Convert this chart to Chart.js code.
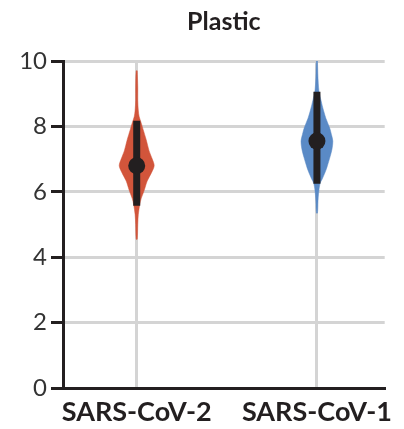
<!DOCTYPE html>
<html>
<head>
<meta charset="utf-8">
<script src="https://cdn.jsdelivr.net/npm/chart.js@4.4.1/dist/chart.umd.min.js"></script>
<style>
  html, body { margin: 0; padding: 0; background: #fff; }
  #wrap { width: 404px; height: 429px; }
</style>
</head>
<body>
<div id="wrap"><canvas id="chart"></canvas></div>
<script>
// groups and summary values
const categories = ["SARS-CoV-2", "SARS-CoV-1"];
const yTicks = [0, 2, 4, 6, 8, 10];
const medians = [6.8, 7.55];
const lowers = [5.57, 6.25];
const uppers = [8.17, 9.06];

// violin outlines: y value and relative density (1 = widest)
const cov2Values = [9.7, 9.2, 8.8, 8.5, 8.3, 8.1, 7.9, 7.6, 7.25, 7.0, 6.8, 6.6, 6.33, 6.15, 6.0, 5.8, 5.6, 5.3, 5.0, 4.55];
const cov2Density = [0.03, 0.06, 0.06, 0.09, 0.14, 0.26, 0.37, 0.54, 0.71, 0.89, 1, 0.86, 0.6, 0.49, 0.4, 0.26, 0.17, 0.09, 0.06, 0.03];
const cov1Values = [10.0, 9.5, 9.1, 8.8, 8.5, 8.25, 7.95, 7.75, 7.55, 7.3, 7.03, 6.8, 6.64, 6.4, 6.24, 5.93, 5.7, 5.35];
const cov1Density = [0.03, 0.06, 0.11, 0.23, 0.37, 0.51, 0.73, 0.83, 0.91, 0.86, 0.73, 0.6, 0.5, 0.31, 0.17, 0.09, 0.06, 0.03];

const colors = ["#d2553b", "#5a8ac6"];
const ink = "#231f20";
const gridGray = "#d4d4d4";
const halfWidth = 0.097;

function violinPoints(center, values, density) {
  const right = values.map((v, i) => ({ x: center + density[i] * halfWidth, y: v }));
  const left = values.map((v, i) => ({ x: center - density[i] * halfWidth, y: v })).reverse();
  const pts = right.concat(left);
  pts.push(pts[0]);
  return pts;
}

const violins = [
  violinPoints(0, cov2Values, cov2Density),
  violinPoints(1, cov1Values, cov1Density),
];

const datasets = [];
// medians on top
datasets.push({
  data: medians.map((m, i) => ({ x: i, y: m })),
  showLine: false,
  pointRadius: 8.5,
  pointBackgroundColor: ink,
  pointBorderWidth: 0,
});
// interval bars
categories.forEach((c, i) => {
  datasets.push({
    data: [{ x: i, y: lowers[i] }, { x: i, y: uppers[i] }],
    borderColor: ink,
    borderWidth: 7,
    borderCapStyle: "butt",
    pointRadius: 0,
  });
});
// violins
violins.forEach((pts, i) => {
  datasets.push({
    data: pts,
    borderColor: colors[i],
    borderWidth: 0.5,
    backgroundColor: colors[i],
    fill: "shape",
    pointRadius: 0,
    tension: 0.3,
  });
});

new Chart(document.getElementById("chart"), {
  type: "line",
  data: { datasets },
  options: {
    responsive: true,
    maintainAspectRatio: false,
    animation: false,
    layout: { padding: { left: 0, right: 18, top: 0, bottom: 0 } },
    plugins: {
      legend: { display: false },
      tooltip: { enabled: false },
      title: {
        display: true,
        fullSize: false,
        text: "Plastic",
        color: ink,
        font: { family: "Lato", size: 25, weight: "bold" },
        padding: { top: 7, bottom: 24 },
      },
    },
    scales: {
      x: {
        type: "linear",
        min: -0.409,
        max: 1.376,
        afterBuildTicks: (scale) => {
          scale.ticks = categories.map((c, i) => ({ value: i }));
        },
        afterFit: (scale) => {
          scale.height = 41;
        },
        ticks: {
          autoSkip: false,
          maxRotation: 0,
          padding: 8,
          color: ink,
          font: { family: "Lato", size: 27, weight: "bold" },
          callback: (value) => categories[value],
        },
        grid: { color: gridGray, lineWidth: 3, drawTicks: false },
        border: { color: ink, width: 3 },
      },
      y: {
        min: 0,
        max: 10,
        afterBuildTicks: (scale) => {
          scale.ticks = yTicks.map((v) => ({ value: v }));
        },
        afterFit: (scale) => {
          scale.width = 63;
        },
        ticks: {
          padding: 4,
          color: "#333",
          font: { family: "Lato", size: 24 },
        },
        grid: { color: gridGray, lineWidth: 3, tickColor: ink, tickLength: 12 },
        border: { color: ink, width: 3 },
      },
    },
  },
});
</script>
</body>
</html>
